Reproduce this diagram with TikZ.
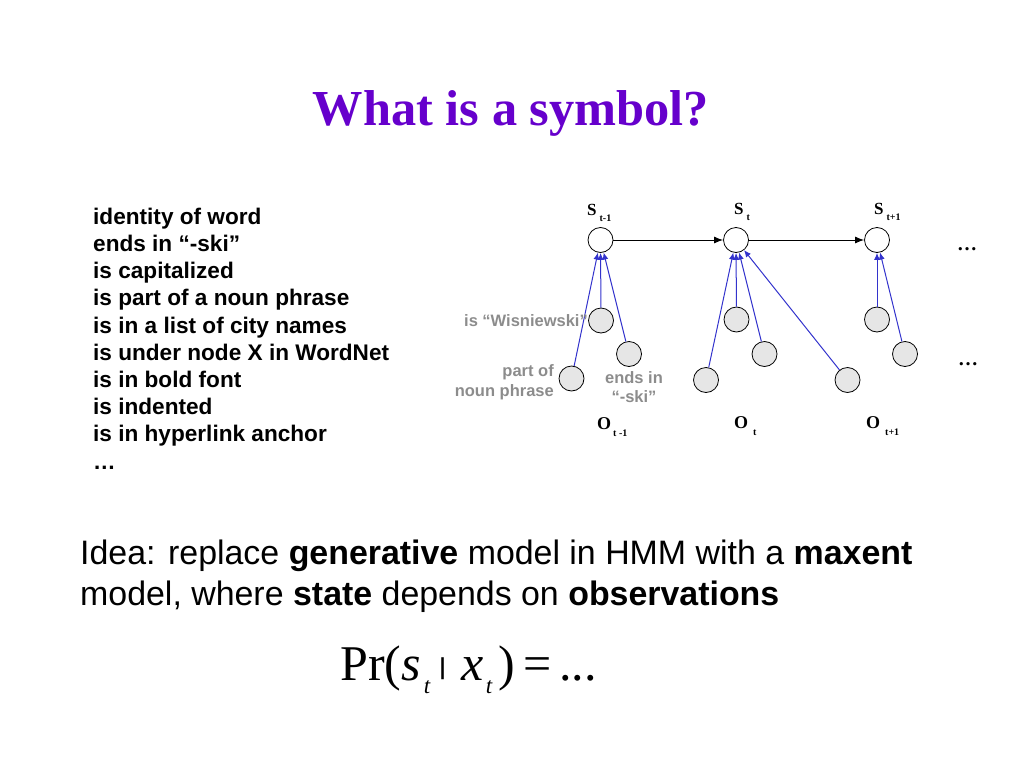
\documentclass[tikz,border=0pt]{standalone}
\usepackage{fontspec}
\usepackage{graphicx}
\setmainfont{Liberation Serif}
\setsansfont{Liberation Sans}
\usetikzlibrary{arrows.meta}
\definecolor{titlepurple}{HTML}{6600CC}
\definecolor{featblue}{HTML}{3333CC}
\definecolor{obsgray}{HTML}{E6E6E6}
\definecolor{labgray}{HTML}{8C8C8C}
\newcommand\fsz[2]{\fontsize{#1}{#2}\selectfont}
\newcommand\sublab[2]{#1\hspace{3pt}\raisebox{-6pt}{\fsz{10}{10}#2}}
\tikzset{
  snode/.style={circle,draw=black,fill=white,line width=0.8pt,minimum size=25pt,inner sep=0pt},
  onode/.style={circle,draw=black,fill=obsgray,line width=0.8pt,minimum size=25pt,inner sep=0pt},
  feat/.style={draw=featblue,line width=1pt,-{Latex[length=7pt,width=6pt]}},
  trans/.style={draw=black,line width=1pt,-{Latex[length=9pt,width=7pt]}},
  slab/.style={font=\bfseries\fsz{17}{17},anchor=base west,inner sep=0pt},
  olab/.style={font=\bfseries\fsz{18}{18},anchor=base west,inner sep=0pt},
  flab/.style={font=\sffamily\bfseries\fsz{16.5}{19.5},text=labgray,inner sep=0pt,align=center},
  dots/.style={font=\bfseries\fsz{20}{20},anchor=base,inner sep=0pt}
}
\begin{document}
\begin{tikzpicture}[x=1pt,y=-1pt]
\useasboundingbox (0,0) rectangle (1024,768);
% title
\node[font=\bfseries\fsz{50.4}{55},text=titlepurple,anchor=base,inner sep=0pt] (title) at (511,125) {What is a symbol?};
% feature list (base anchor = baseline of last line)
\node[font=\sffamily\bfseries\fsz{22.6}{27.2},anchor=base west,inner sep=0pt,align=left] (list) at (93,469)
 {identity of word\\ends in “-ski”\\is capitalized\\is part of a noun phrase\\is in a list of city names\\is under node X in WordNet\\is in bold font\\is indented\\is in hyperlink anchor\\…};
% states
\node[snode] (s1) at (600.5,240) {};
\node[snode] (s2) at (736,240) {};
\node[snode] (s3) at (877,240) {};
\node[slab] (ls1) at (587,215) {\sublab{S}{t-1}};
\node[slab] (ls2) at (734,214) {\sublab{S}{t}};
\node[slab] (ls3) at (874,214) {\sublab{S}{t+1}};
\draw[trans] (s1) -- (s2);
\draw[trans] (s2) -- (s3);
\node[dots] (d1) at (967,250) {…};
\node[dots] (d2) at (968,365) {…};
% observations
\node[onode] (o11) at (601,320.5) {};
\node[onode] (o12) at (629,354) {};
\node[onode] (o13) at (571.5,378.5) {};
\node[onode] (o21) at (736.5,319.5) {};
\node[onode] (o22) at (764.5,354) {};
\node[onode] (o23) at (706,380) {};
\node[onode] (o24) at (847.5,380) {};
\node[onode] (o31) at (877,319.5) {};
\node[onode] (o32) at (905,354) {};
\foreach \o in {o11,o12,o13} \draw[feat] (\o) -- (s1);
\foreach \o in {o21,o22,o23,o24} \draw[feat] (\o) -- (s2);
\foreach \o in {o31,o32} \draw[feat] (\o) -- (s3);
% feature labels
\node[flab,anchor=east] (f1) at (588,320.5) {is “Wisniewski”};
\node[flab,anchor=east,align=right] (f2) at (554,382) {part of\\noun phrase};
\node[flab] (f3) at (634,387) {ends in\\“-ski”};
% observation labels
\node[olab] (lo1) at (597,429) {O\hspace{2pt}\raisebox{-7pt}{\fsz{10}{10}t -1}};
\node[olab] (lo2) at (734,428) {O\hspace{5pt}\raisebox{-7pt}{\fsz{10}{10}t}};
\node[olab] (lo3) at (866,428) {O\hspace{5pt}\raisebox{-7pt}{\fsz{10}{10}t+1}};
% idea text (base anchor = baseline of last line)
\node[font=\sffamily\fsz{33.9}{41},anchor=base west,inner sep=0pt,align=left] (idea) at (80,605)
 {Idea: replace \textbf{generative} model in HMM with a \textbf{maxent}\\model, where \textbf{state} depends on \textbf{observations}};
% formula
\node[font=\fsz{50}{52},anchor=base west,inner sep=0pt] (formula) at (340,680)
 {Pr(\textit{s}\hspace{3pt}\raisebox{-13pt}{\fsz{23}{23}\textit{t}}\hspace{8pt}\resizebox*{8pt}{22pt}{\bfseries\raisebox{\depth}{|}}\hspace{15pt}\textit{x}\hspace{2pt}\raisebox{-13pt}{\fsz{23}{23}\textit{t}}\hspace{6pt})\hspace{8pt}=\hspace{8pt}...};
\end{tikzpicture}
\end{document}
